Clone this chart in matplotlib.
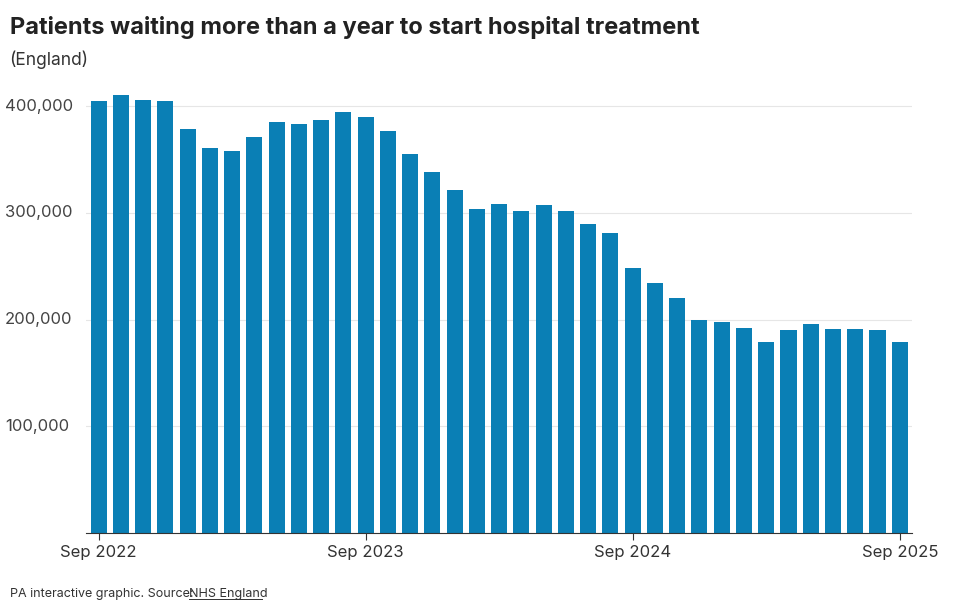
import matplotlib.pyplot as plt
import pandas as pd

months = pd.date_range("2022-09-01", "2025-09-01", freq="MS")
waiting = [405000, 411000, 406000, 405000, 379000, 361000, 358000, 371000, 385000, 383000,
           387000, 395000, 390000, 377000, 355000, 338000, 321000, 304000, 308000, 302000,
           307000, 302000, 290000, 281000, 248000, 234000, 220000, 200000, 198000, 192000,
           179000, 190000, 196000, 191000, 191000, 190000, 179000]
tick_pos = [0, 12, 24, 36]
tick_labels = ["Sep 2022", "Sep 2023", "Sep 2024", "Sep 2025"]
yticks = [100000, 200000, 300000, 400000]

plt.rcParams['font.family'] = ['Inter', 'DejaVu Sans']
fig = plt.figure(figsize=(9.6, 6.11), dpi=100)
ax = fig.add_axes([0.09, 0.128, 0.86, 0.733])

x = list(range(len(months)))
ax.bar(x, waiting, width=0.72, color="#0a7fb5", zorder=2)
ax.set_xlim(-0.55, len(x) - 0.45)
ax.set_ylim(0, 420000)
ax.set_yticks(yticks)
ax.set_yticklabels([f"{v:,}" for v in yticks], fontsize=12, color="#444444")
ax.set_xticks(tick_pos)
ax.set_xticklabels(tick_labels, fontsize=12, color="#333333")
ax.grid(axis="y", color="#e6e6e6", linewidth=0.8, zorder=0)
for s in ["top", "right", "left"]:
    ax.spines[s].set_visible(False)
ax.spines["bottom"].set_color("#333333")
ax.tick_params(axis="y", length=0, pad=2)
ax.tick_params(axis="x", length=5, color="#333333")
for lbl in ax.get_yticklabels():
    lbl.set_horizontalalignment("left")
    lbl.set_x(-0.095)
    lbl.set_verticalalignment("center")

fig.text(0.01, 0.955, "Patients waiting more than a year to start hospital treatment",
         fontsize=17, fontweight="bold", color="#222222", va="center")
fig.text(0.01, 0.902, "(England)", fontsize=12.5, color="#333333", va="center")
fig.text(0.01, 0.023, "PA interactive graphic. Source:", fontsize=9, color="#333333")
fig.text(0.197, 0.023, "NHS England", fontsize=9, color="#333333")
fig.add_artist(plt.Line2D([0.197, 0.273], [0.019, 0.019], color="#333333", linewidth=0.7))

fig.savefig("out.png", dpi=100)
